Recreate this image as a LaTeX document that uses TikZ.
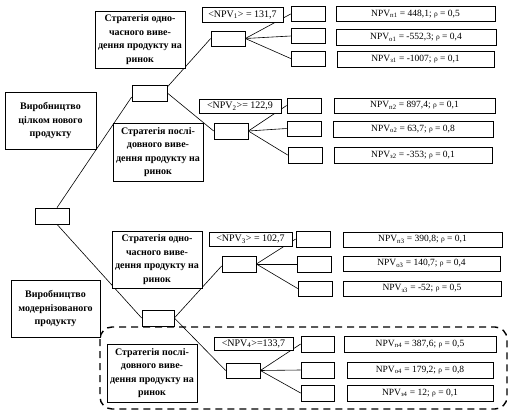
\documentclass[tikz,border=0pt]{standalone}
\usepackage{fontspec}
\setmainfont{Liberation Serif}
\usetikzlibrary{calc}
\newcommand{\myrho}{{\fontsize{7.5}{7.5}\selectfont ρ}}
\newcommand{\mysub}[1]{\textsubscript{#1}}
\tikzset{
  bx/.style={draw, line width=0.7pt, fill=white, inner sep=0pt, align=center},
  sbox/.style={bx, minimum width=90pt, minimum height=57pt, font=\fontsize{10}{13.5}\selectfont\bfseries},
  lbl/.style={bx, font=\fontsize{10}{12}\selectfont},
  res/.style={bx, minimum height=15pt, font=\fontsize{9.5}{11}\selectfont},
  emp/.style={bx, minimum width=34pt, minimum height=15pt},
  conn/.style={line width=0.6pt},
  grp/.style={line width=1.4pt, dash pattern=on 7pt off 5pt, rounded corners=12pt}
}
\begin{document}
\begin{tikzpicture}[x=1pt,y=-1pt]
\useasboundingbox (0,0) rectangle (515,418);
% dashed group
\draw[grp] (100,327) rectangle (507,409);
% decision nodes
\node[emp, minimum width=34pt, minimum height=16pt] (root) at (52,216) {};
\node[emp, minimum width=35pt, minimum height=16pt] (A) at (149.5,93) {};
\node[emp, minimum width=32pt, minimum height=16pt] (B) at (158,318) {};
\node[emp] (d1) at (228,38.5) {};
\node[emp, minimum height=16pt] (d2) at (231,131) {};
\node[emp, minimum height=16pt] (d3) at (239,264) {};
\node[emp] (d4) at (243,370.5) {};
% leaves
\node[emp] (l11) at (308,14) {};
\node[emp] (l12) at (308,36) {};
\node[emp] (l13) at (308,58.5) {};
\node[emp] (l21) at (304,105.5) {};
\node[emp] (l22) at (304,128.5) {};
\node[emp, minimum height=16pt] (l23) at (305,155) {};
\node[emp, minimum height=16pt] (l31) at (313,239) {};
\node[emp, minimum height=16pt] (l32) at (314,264) {};
\node[emp] (l33) at (315,288.5) {};
\node[emp, minimum width=33pt, minimum height=16pt] (l41) at (317.5,344) {};
\node[emp, minimum width=33pt, minimum height=16pt] (l42) at (317.5,370) {};
\node[emp, minimum width=33pt, minimum height=16pt] (l43) at (317.5,393) {};
% connectors
\draw[conn] ($(root.north)+(5,0)$) -- ($(A.west)+(0,4)$);
\draw[conn] ($(root.south)+(5,0)$) -- (B.west);
\draw[conn] ($(A.east)+(0,-6)$) -- (d1.west);
\draw[conn] (A.east) -- (d2.west);
\draw[conn] (B.east) -- ($(d3.west)+(0,2)$);
\draw[conn] (B.east) -- (d4.west);
\foreach \d/\g in {d1/1,d2/2,d3/3,d4/4}{
  \draw[conn] (\d.east) -- (l\g1.west);
  \draw[conn] (\d.east) -- (l\g2.west);
  \draw[conn] (\d.east) -- (l\g3.west);
}
% text boxes
\node[sbox, minimum width=91pt] (t1) at (50.5,120.5) {Виробництво\\цілком нового\\продукту};
\node[sbox] (s1) at (140,39.5) {Стратегія одно-\\часного виве-\\дення продукту на\\ринок};
\node[sbox, minimum height=58pt] (s2) at (158,152) {Стратегія послі-\\довного виве-\\дення продукту на\\ринок};
\node[sbox] (s3) at (157,259.5) {Стратегія одно-\\часного виве-\\дення продукту на\\ринок};
\node[sbox, minimum width=89pt] (t2) at (55.5,308.5) {Виробництво\\модернізованого\\продукту};
\node[sbox, minimum height=58pt] (s4) at (152,373) {Стратегія послі-\\довного виве-\\дення продукту на\\ринок};
% expected values
\node[lbl, minimum width=81pt, minimum height=15pt] (e1) at (242.5,14.5) {<NPV\mysub{1}> = 131,7};
\node[lbl, minimum width=82pt, minimum height=14pt] (e2) at (240,106) {<NPV\mysub{2}>= 122,9};
\node[lbl, minimum width=83pt, minimum height=14pt] (e3) at (250.5,239) {<NPV\mysub{3}> = 102,7};
\node[lbl, minimum width=79pt, minimum height=13pt] (e4) at (253.5,343.5) {<NPV\mysub{4}>=133,7};
% results
\node[res, minimum width=159pt] (r11) at (415.5,14) {NPV\mysub{п1} = 448,1; \myrho{} = 0,5};
\node[res, minimum width=160pt, minimum height=16pt] (r12) at (416,37.5) {NPV\mysub{о1} = -552,3; \myrho{} = 0,4};
\node[res, minimum width=157pt, minimum height=16pt] (r13) at (415.5,59) {NPV\mysub{з1} = -1007; \myrho{} = 0,1};
\node[res, minimum width=161pt] (r21) at (414.5,105.5) {NPV\mysub{п2} = 897,4; \myrho{} = 0,1};
\node[res, minimum width=160pt, minimum height=16pt] (r22) at (413,129) {NPV\mysub{о2} = 63,7; \myrho{} = 0,8};
\node[res, minimum width=158pt, minimum height=16pt] (r23) at (413,155) {NPV\mysub{з2} = -353; \myrho{} = 0,1};
\node[res, minimum width=159pt] (r31) at (422.5,239.5) {NPV\mysub{п3} = 390,8; \myrho{} = 0,1};
\node[res, minimum width=157pt] (r32) at (421.5,263.5) {NPV\mysub{о3} = 140,7; \myrho{} = 0,4};
\node[res, minimum width=158pt] (r33) at (422,288.5) {NPV\mysub{з3} = -52; \myrho{} = 0,5};
\node[res, minimum width=152pt, minimum height=16pt] (r41) at (420,344) {NPV\mysub{п4} = 387,6; \myrho{} = 0,5};
\node[res, minimum width=146pt, minimum height=16pt] (r42) at (420,370) {NPV\mysub{о4} = 179,2; \myrho{} = 0,8};
\node[res, minimum width=146pt, minimum height=16pt] (r43) at (420,393) {NPV\mysub{з4} = 12; \myrho{} = 0,1};
\end{tikzpicture}
\end{document}
